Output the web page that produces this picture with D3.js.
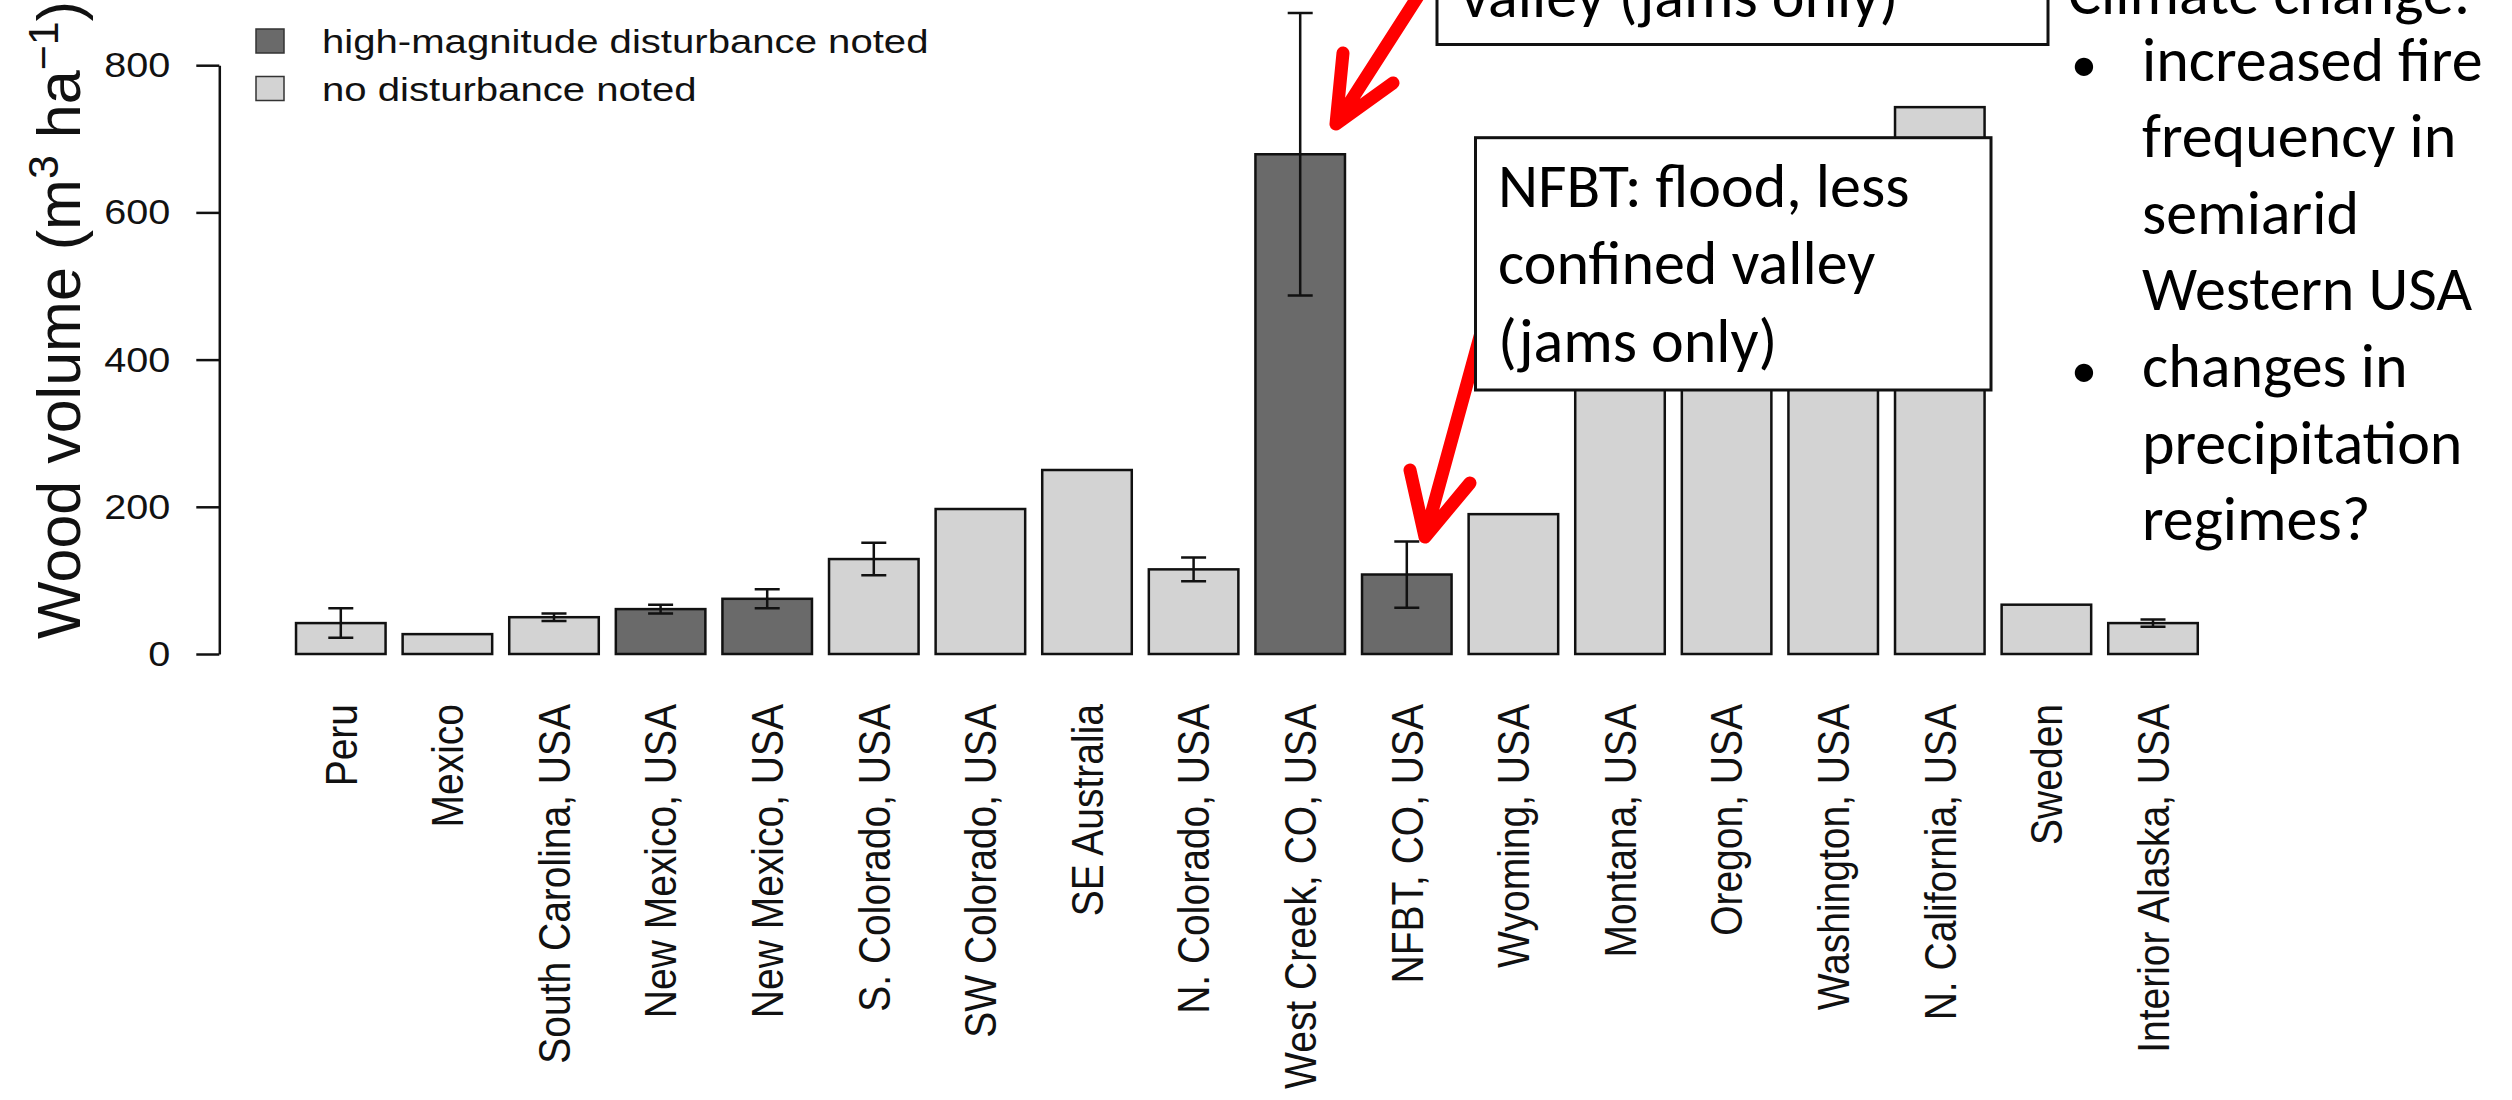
<!DOCTYPE html>
<html>
<head>
<meta charset="utf-8">
<script src="https://cdn.jsdelivr.net/npm/d3@7"></script>
<style>
  body { margin: 0; background: #fff; }
  svg { display: block; }
</style>
</head>
<body>
<div id="chart"></div>
<script>
// data
const sites = [
  "Peru", "Mexico", "South Carolina, USA", "New Mexico, USA", "New Mexico, USA",
  "S. Colorado, USA", "SW Colorado, USA", "SE Australia", "N. Colorado, USA",
  "West Creek, CO, USA", "NFBT, CO, USA", "Wyoming, USA", "Montana, USA",
  "Oregon, USA", "Washington, USA", "N. California, USA", "Sweden", "Interior Alaska, USA"
];
const volumes = [42, 27, 50, 61, 75, 129, 197, 250, 115, 679, 108, 190, 450, 500, 560, 743, 67, 42];
const errors = [20, null, 5, 6, 13, 22, null, null, 16, 192, 45, null, null, null, null, null, null, 5];
const disturbed = [0, 0, 0, 1, 1, 0, 0, 0, 0, 1, 1, 0, 0, 0, 0, 0, 0, 0];
const yTicks = [0, 200, 400, 600, 800];
const legendLabels = ["high-magnitude disturbance noted", "no disturbance noted"];
const legendKinds = [1, 0];
const boxTopLines = ["valley (jams only)"];
const boxNfbtLines = ["NFBT: flood, less", "confined valley", "(jams only)"];
const climateHeader = "Climate change:";
const climateLines = [
  { text: "increased fire", bullet: true },
  { text: "frequency in", bullet: false },
  { text: "semiarid", bullet: false },
  { text: "Western USA", bullet: false },
  { text: "changes in", bullet: true },
  { text: "precipitation", bullet: false },
  { text: "regimes?", bullet: false }
];

const DARK = "#6a6a6a";
const LIGHT = "#d3d3d3";
const INK = "#111";
const R_FONT = "'Liberation Sans', Arial, Helvetica, sans-serif";
const SLIDE_FONT = "Carlito, Calibri, Lato, sans-serif";
const SLIDE_SIZE = 62;

const width = 2512;
const height = 1100;

const svg = d3.select("#chart")
  .append("svg")
  .attr("width", width)
  .attr("height", height)
  .attr("viewBox", "0 0 " + width + " " + height);

svg.append("rect").attr("width", width).attr("height", height).attr("fill", "#fff");

const x = d3.scaleBand()
  .domain(d3.range(sites.length))
  .range([287.5, 2206.3])
  .paddingInner(0.16)
  .paddingOuter(0.08);

const y = d3.scaleLinear().domain([0, 800]).range([654, 65.2]);

// y axis
const yAxis = svg.append("g")
  .attr("transform", "translate(219.3,0)")
  .call(d3.axisLeft(y).tickValues(yTicks).tickSize(23).tickSizeOuter(0).tickPadding(26));

yAxis.attr("font-family", R_FONT).attr("font-size", 36);
yAxis.select(".domain").attr("stroke", INK).attr("stroke-width", 2.5);
yAxis.selectAll(".tick line").attr("stroke", INK).attr("stroke-width", 2.5);
yAxis.selectAll(".tick text")
  .attr("fill", INK)
  .attr("x", -49 / 1.1)
  .attr("transform", "scale(1.1,1)");

// y title
const title = svg.append("text")
  .attr("transform", "translate(80,639) rotate(-90)")
  .attr("font-family", R_FONT)
  .attr("font-size", 61)
  .attr("fill", INK);
title.append("tspan").text("Wood volume (m");
title.append("tspan").attr("font-size", 43).attr("dy", -22).text("3");
title.append("tspan").attr("dy", 22).text(" ha");
title.append("tspan").attr("font-size", 43).attr("dy", -22).text("\u22121");
title.append("tspan").attr("dy", 22).text(")");

// bars
svg.append("g")
  .selectAll("rect")
  .data(volumes)
  .join("rect")
  .attr("x", function (d, i) { return x(i); })
  .attr("y", function (d) { return y(d); })
  .attr("width", x.bandwidth())
  .attr("height", function (d) { return y(0) - y(d); })
  .attr("fill", function (d, i) { return disturbed[i] ? DARK : LIGHT; })
  .attr("stroke", INK)
  .attr("stroke-width", 2.5);

// error bars
const errData = volumes
  .map(function (v, i) { return { i: i, v: v, e: errors[i] }; })
  .filter(function (d) { return d.e !== null; });

const errG = svg.append("g").attr("stroke", INK).attr("stroke-width", 2.5);
errG.selectAll("path")
  .data(errData)
  .join("path")
  .attr("fill", "none")
  .attr("d", function (d) {
    const cx = x(d.i) + x.bandwidth() / 2;
    const lo = y(d.v - d.e);
    const hi = y(d.v + d.e);
    return "M" + (cx - 12.5) + "," + hi + "H" + (cx + 12.5) +
      "M" + cx + "," + hi + "V" + lo +
      "M" + (cx - 12.5) + "," + lo + "H" + (cx + 12.5);
  });

// category labels, rotated
svg.append("g")
  .selectAll("text")
  .data(sites)
  .join("text")
  .attr("transform", function (d, i) {
    return "translate(" + (x(i) + x.bandwidth() / 2) + ",704) scale(1.12,1) rotate(-90)";
  })
  .attr("text-anchor", "end")
  .attr("dy", "0.36em")
  .attr("font-family", R_FONT)
  .attr("font-size", 39)
  .attr("fill", INK)
  .text(function (d) { return d; });

// legend
const legend = svg.append("g").attr("font-family", R_FONT);
const legendRows = legend.selectAll("g")
  .data(legendLabels)
  .join("g")
  .attr("transform", function (d, i) { return "translate(256," + (41 + i * 47.5) + ")"; });
legendRows.append("rect")
  .attr("x", 0).attr("y", -12).attr("width", 28).attr("height", 24)
  .attr("fill", function (d, i) { return legendKinds[i] ? DARK : LIGHT; })
  .attr("stroke", "#333").attr("stroke-width", 1.5);
legendRows.append("text")
  .attr("transform", "translate(66,0) scale(1.18,1)")
  .attr("dy", "0.36em")
  .attr("font-size", 34)
  .attr("fill", INK)
  .text(function (d) { return d; });

// red arrows
const arrows = svg.append("g")
  .attr("fill", "none")
  .attr("stroke", "#ff0000")
  .attr("stroke-width", 13)
  .attr("stroke-linecap", "round")
  .attr("stroke-linejoin", "round");
arrows.append("path").attr("d", "M1422,-10L1336,124M1343,53L1336,124L1393,83");
arrows.append("path").attr("d", "M1490,300L1425,537M1410,470L1425,537L1470,483");

// annotation boxes
function textBox(x0, y0, x1, y1, lines, tx, ty) {
  const g = svg.append("g");
  g.append("rect")
    .attr("x", x0).attr("y", y0)
    .attr("width", x1 - x0).attr("height", y1 - y0)
    .attr("fill", "#fff").attr("stroke", INK).attr("stroke-width", 3);
  g.selectAll("text")
    .data(lines)
    .join("text")
    .attr("x", tx)
    .attr("y", function (d, i) { return ty + i * 77.5; })
    .attr("font-family", SLIDE_FONT)
    .attr("font-size", SLIDE_SIZE)
    .attr("fill", "#000")
    .text(function (d) { return d; });
}
textBox(1437, -20, 2048, 44.5, boxTopLines, 1461, 17);
textBox(1475.5, 137.7, 1991, 390, boxNfbtLines, 1498, 206.5);

// right-hand notes
const notes = svg.append("g")
  .attr("font-family", SLIDE_FONT)
  .attr("font-size", SLIDE_SIZE)
  .attr("fill", "#000");
notes.append("text").attr("x", 2068).attr("y", 14).text(climateHeader);
const noteRows = notes.selectAll("g.row")
  .data(climateLines)
  .join("g")
  .attr("class", "row")
  .attr("transform", function (d, i) { return "translate(0," + (80.5 + i * 76.6) + ")"; });
noteRows.filter(function (d) { return d.bullet; })
  .append("text").attr("x", 2071).attr("font-size", 52).text("\u2022");
noteRows.append("text").attr("x", 2142).text(function (d) { return d.text; });
</script>
</body>
</html>
